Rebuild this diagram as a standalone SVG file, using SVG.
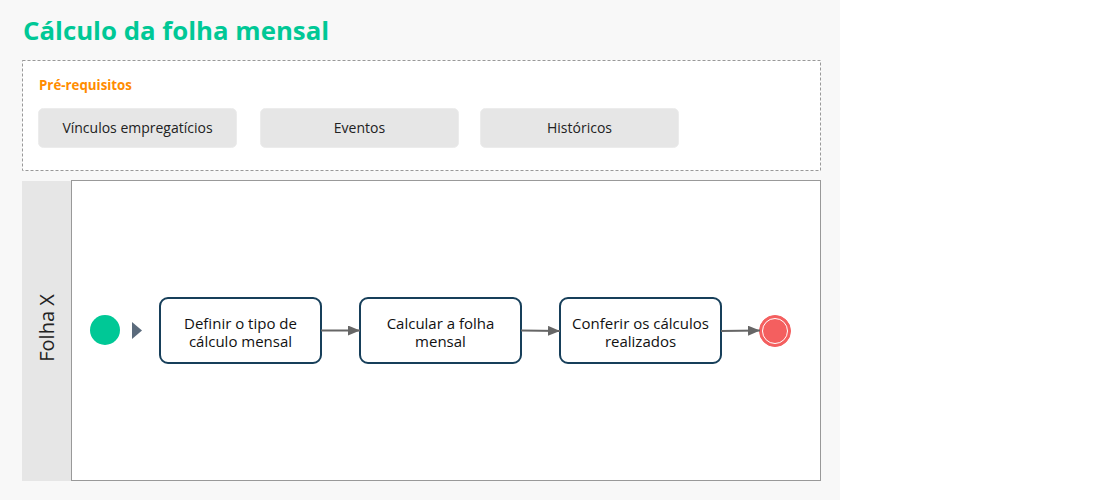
<svg xmlns="http://www.w3.org/2000/svg" width="1120" height="500" viewBox="0 0 1120 500">
<style>
  text { font-family: "Open Sans", "Noto Sans", sans-serif; }
  .title { font-size: 25.8px; font-weight: bold; fill: #00c896; }
  .pre { font-size: 13.3px; font-weight: bold; fill: #ff8c00; }
  .pill { fill: #e6e6e6; stroke: #ececec; stroke-width: 1; }
  .pilltxt { font-size: 14px; fill: #222; text-anchor: middle; }
  .task { fill: #ffffff; stroke: #173f5a; stroke-width: 2; }
  .tasktxt { font-size: 15px; fill: #111; text-anchor: middle; }
  .edge { stroke: #666666; stroke-width: 2; fill: none; marker-end: url(#arr); }
</style>
<defs>
  <marker id="arr" viewBox="0 0 12 10" refX="12" refY="5" markerWidth="12" markerHeight="10" markerUnits="userSpaceOnUse" orient="auto">
    <path d="M0,0 L12,5 L0,10 Z" fill="#666666"/>
  </marker>
</defs>
<rect x="0" y="0" width="1120" height="500" fill="#ffffff"/>
<rect x="0" y="0" width="840" height="500" fill="#f8f8f8"/>
<text class="title" x="23" y="40">Cálculo da folha mensal</text>

<g id="prerequisitos">
  <rect x="22.5" y="60.5" width="798" height="110" fill="#ffffff" stroke="#999999" stroke-width="1" stroke-dasharray="3,2"/>
  <text class="pre" x="39" y="90">Pré-requisitos</text>
</g>
<g id="pre1">
  <rect class="pill" x="38.5" y="108.5" width="198" height="39" rx="5"/>
  <text class="pilltxt" x="137.5" y="133">Vínculos empregatícios</text>
</g>
<g id="pre2">
  <rect class="pill" x="260.5" y="108.5" width="198" height="39" rx="5"/>
  <text class="pilltxt" x="359.5" y="133">Eventos</text>
</g>
<g id="pre3">
  <rect class="pill" x="480.5" y="108.5" width="198" height="39" rx="5"/>
  <text class="pilltxt" x="579.5" y="133">Históricos</text>
</g>

<g id="lane">
  <rect x="22" y="181" width="50" height="300" fill="#e6e6e6"/>
  <rect x="71.5" y="180.5" width="749" height="300" fill="#ffffff" stroke="#999999" stroke-width="1"/>
  <text x="0" y="0" transform="translate(54,328) rotate(-90)" font-size="20" fill="#222" text-anchor="middle">Folha X</text>
</g>

<g id="start">
  <circle cx="105" cy="330" r="15" fill="#00c896"/>
  <path d="M132,322 L142,330.5 L132,339 Z" fill="#5b6b7c"/>
</g>
<g id="task1">
  <rect class="task" x="160" y="298" width="161" height="65" rx="8"/>
  <text class="tasktxt" x="240.5" y="329">Definir o tipo de</text>
  <text class="tasktxt" x="240.5" y="347">cálculo mensal</text>
</g>
<g id="task2">
  <rect class="task" x="360" y="298" width="161" height="65" rx="8"/>
  <text class="tasktxt" x="440.5" y="329">Calcular a folha</text>
  <text class="tasktxt" x="440.5" y="347">mensal</text>
</g>
<g id="task3">
  <rect class="task" x="560" y="298" width="161" height="65" rx="8"/>
  <text class="tasktxt" x="640.5" y="329">Conferir os cálculos</text>
  <text class="tasktxt" x="640.5" y="347">realizados</text>
</g>
<g id="end">
  <circle cx="775" cy="331" r="15.5" fill="#f45f5f" stroke="#f45f5f" stroke-width="1"/>
  <circle cx="775" cy="331" r="12.5" fill="none" stroke="#ffffff" stroke-width="1"/>
</g>

<g id="connectors">
  <path class="edge" d="M321,330.5 L360,330.5"/>
  <path class="edge" d="M521,330.5 L560,331"/>
  <path class="edge" d="M721,331 L760,330.5"/>
</g>
</svg>
